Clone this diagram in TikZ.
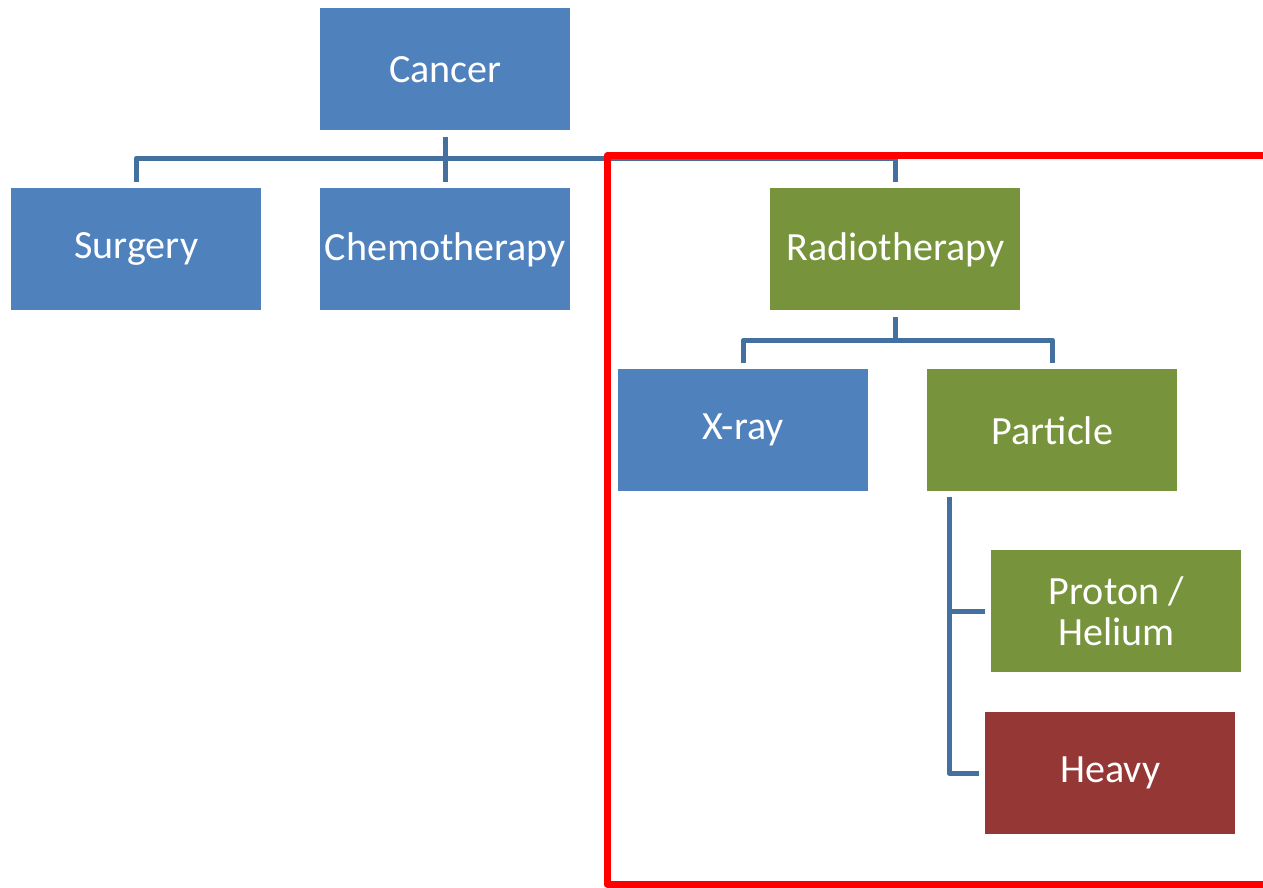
\documentclass[tikz,border=0pt]{standalone}
\usepackage{fontspec}
\setmainfont{Carlito}
\definecolor{boxblue}{HTML}{4F81BD}
\definecolor{boxgreen}{HTML}{77933C}
\definecolor{boxred}{HTML}{953735}
\definecolor{linkblue}{HTML}{44709F}
\begin{document}
\begin{tikzpicture}[x=0.02cm,y=-0.02cm,
  box/.style={minimum width=250*0.02cm, minimum height=122*0.02cm, inner sep=0pt,
    text=white, font=\fontsize{22.8}{26}\selectfont, align=center, anchor=north west},
  bluebox/.style={box, fill=boxblue},
  greenbox/.style={box, fill=boxgreen},
  redbox/.style={box, fill=boxred},
  link/.style={draw=linkblue, line width=5*0.02cm},
  frame/.style={draw=red, line width=7*0.02cm, line join=round}]
\useasboundingbox (0,0) rectangle (1263,887);
\clip (0,0) rectangle (1263,887);
\node[bluebox] (cancer) at (320,8) {Cancer};
\node[bluebox] (surgery) at (11,188) {Surgery};
\node[bluebox] (chemo) at (320,188) {Chemotherapy};
\node[greenbox] (radio) at (770,188) {Radiotherapy};
\node[bluebox] (xray) at (618,369) {X-ray};
\node[greenbox] (particle) at (927,369) {Particle};
\node[greenbox] (proton) at (991,550) {Proton /\\[-3pt]Helium};
\node[redbox] (heavy) at (985,712) {Heavy};
% top level connectors
\coordinate (hub1) at (cancer.south |- 0,158);
\draw[link] ([yshift=-6*0.02cm]cancer.south) -- (hub1);
\draw[link, line join=round] ([yshift=6*0.02cm]surgery.north) -- (surgery.north |- hub1) -- (radio.north |- hub1) -- ([yshift=6*0.02cm]radio.north);
\draw[link] (hub1) -- ([yshift=6*0.02cm]chemo.north);
% radiotherapy connectors
\coordinate (hub2) at (radio.south |- 0,340);
\draw[link] ([yshift=-6*0.02cm]radio.south) -- (hub2);
\draw[link, line join=round] ([yshift=6*0.02cm]xray.north) -- (xray.north |- hub2) -- (particle.north |- hub2) -- ([yshift=6*0.02cm]particle.north);
% particle connectors
\coordinate (ptop) at (949,497);
\coordinate (pbend) at (949,773);
\draw[link, line join=round] (ptop) -- (pbend) -- ([xshift=-6*0.02cm]heavy.west |- pbend);
\draw[link] (ptop |- proton.west) -- ([xshift=-6*0.02cm]proton.west);
% red frame
\draw[frame] (1300,155.5) -- (607,155.5) -- (607,884) -- (1300,884);
\end{tikzpicture}
\end{document}
